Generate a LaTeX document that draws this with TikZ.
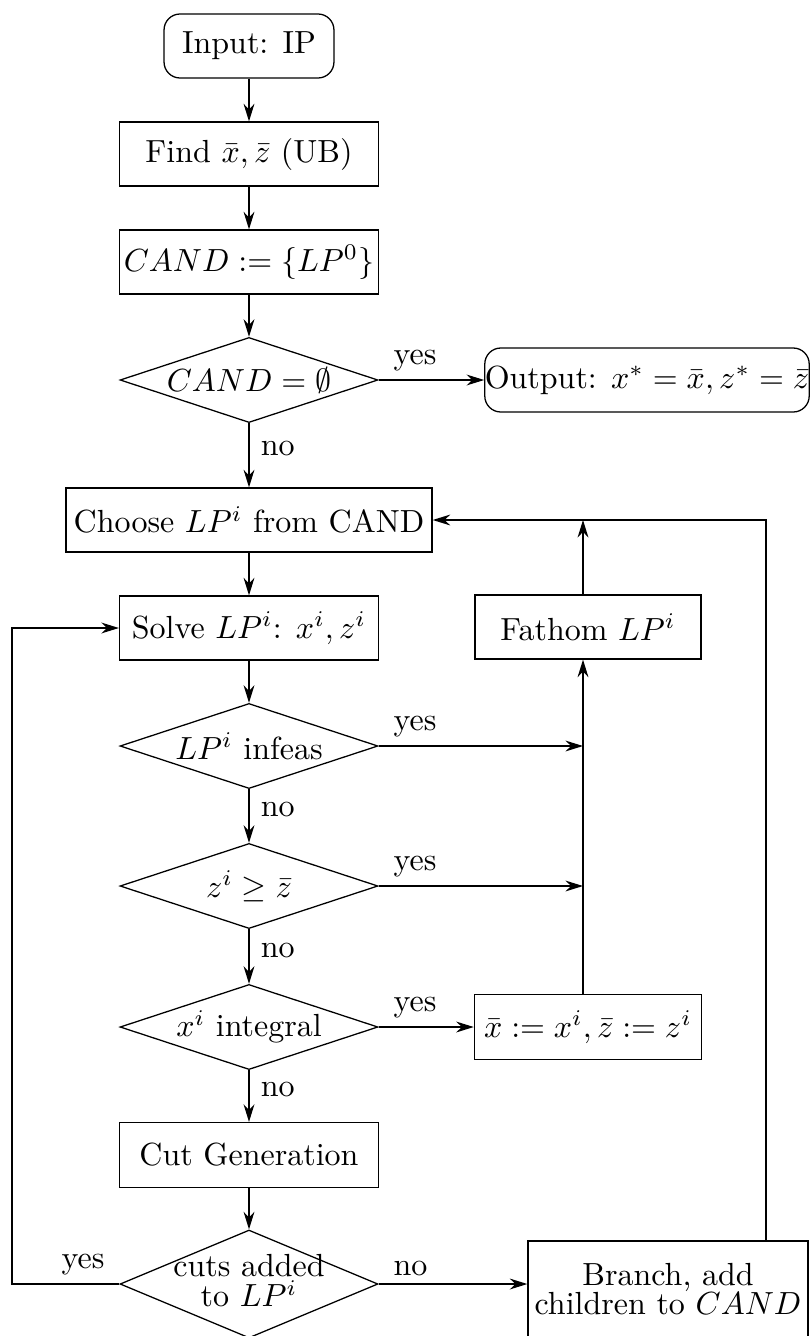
\documentclass[tikz,border=0pt]{standalone}
\usetikzlibrary{shapes.geometric,arrows.meta}
\begin{document}
\begin{tikzpicture}[x=0.3125pt,y=-0.3125pt,
  line width=0.4pt,
  arr/.style={-{Stealth[length=5.5pt,width=3.4pt,inset=1.8pt]}},
  box/.style={draw,rectangle,minimum width=80.9pt,minimum height=20pt,inner sep=0pt},
  rbox/.style={draw,rectangle,rounded corners=5pt,minimum height=20pt,inner sep=0pt},
  dia/.style={draw,diamond,minimum width=80.6pt,minimum height=26.6pt,inner sep=0pt},
  lab/.style={inner sep=2.5pt}]
\clip (0,0) rectangle (810,1336);
% nodes
\node[rbox,minimum width=53.1pt] (in) at (249,46) {Input: IP};
\node[box] (find) at (249,154) {Find $\bar x,\bar z$ (UB)};
\node[box] (cand) at (249,262) {$CAND:=\{LP^0\}$};
\node[dia] (d1) at (249,380) {\makebox[0pt]{$CAND=\emptyset$}};
\node[rbox,minimum width=100.8pt] (out) at (647,380) {Output: $x^*=\bar x, z^*=\bar z$};
\node[box,minimum width=114.4pt] (choose) at (249,520) {Choose $LP^i$ from CAND};
\node[box] (solve) at (249,628) {Solve $LP^i$: $x^i,z^i$};
\node[box,minimum width=70.6pt] (fathom) at (588,627) {Fathom $LP^i$};
\node[dia] (d2) at (249,746) {\makebox[0pt]{$LP^i$ infeas}};
\node[dia] (d3) at (249,886) {\makebox[0pt]{$z^i\geq\bar z$}};
\node[dia] (d4) at (249,1027) {\makebox[0pt]{$x^i$ integral}};
\node[box,minimum width=71pt,minimum height=20.3pt] (xbar) at (588,1027) {$\bar x:=x^i,\bar z:=z^i$};
\node[box,minimum height=20.3pt] (cut) at (249,1155) {Cut Generation};
\node[dia,minimum height=33.75pt] (d5) at (249,1284) {\makebox[0pt]{\raisebox{-1.5pt}{\begin{tabular}{@{}c@{}}cuts added\\[-2.5pt] to $LP^i$\end{tabular}}}};
\node[box,minimum width=87.5pt,minimum height=30pt,align=center] (branch) at (668,1289) {Branch, add\\[-3pt] children to $CAND$};
% junction coordinates
\coordinate (j2) at (583,746);
\coordinate (j3) at (583,886);
\coordinate (cR) at (766,520);
\coordinate (cL) at (12,1284);
% connectors
\draw[arr] (in) -- (find);
\draw[arr] (find) -- (cand);
\draw[arr] (cand) -- (d1);
\draw[arr] (d1) -- node[pos=0,anchor=south west,lab,xshift=2pt]{yes} (out);
\draw[arr] (d1) -- node[right,lab,inner sep=3.5pt,yshift=2pt]{no} (choose);
\draw[arr] (choose) -- (solve);
\draw[arr] (solve) -- (d2);
\draw[arr] (d2) -- node[right,lab,inner sep=3.5pt,yshift=2pt]{no} (d3);
\draw[arr] (d3) -- node[right,lab,inner sep=3.5pt,yshift=2pt]{no} (d4);
\draw[arr] (d4) -- node[right,lab,inner sep=3.5pt,yshift=2pt]{no} (cut);
\draw[arr] (cut) -- (d5);
\draw[arr] (d2.east) -- node[pos=0,anchor=south west,lab,xshift=2pt]{yes} (j2);
\draw[arr] (d3.east) -- node[pos=0,anchor=south west,lab,xshift=2pt]{yes} (j3);
\draw[arr] (d4.east) -- node[pos=0,anchor=south west,lab,xshift=2pt]{yes} (xbar.west);
\draw[arr] (xbar.north -| j2) -- (fathom.south -| j2);
\draw[arr] (fathom.north -| j2) -- (choose.east -| j2);
\draw[arr] (branch.north -| cR) -- (cR) -- (choose.east);
\draw[arr] (d5.west) -- node[pos=0,anchor=south east,lab,xshift=-2pt]{yes} (cL) -- (cL |- solve.west) -- (solve.west);
\draw[arr] (d5.east) -- node[pos=0,anchor=south west,lab,xshift=2pt]{no} (d5.east -| branch.west);
\end{tikzpicture}
\end{document}
